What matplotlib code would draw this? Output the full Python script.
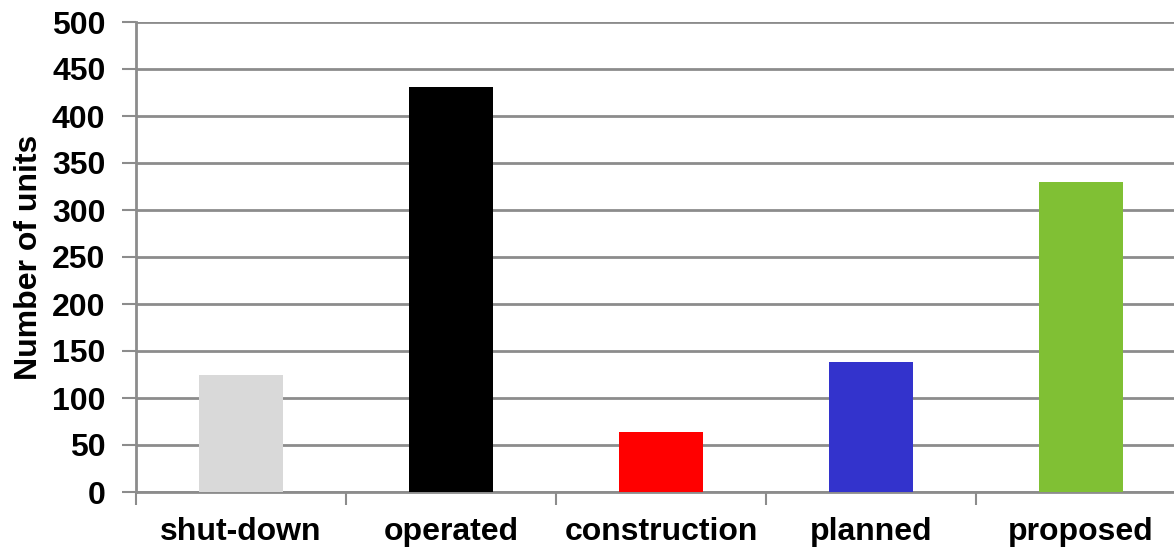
import matplotlib.pyplot as plt
import numpy as np

# data
categories = ['shut-down', 'operated', 'construction', 'planned', 'proposed']
units = [124, 431, 64, 138, 330]
colors = ['#d9d9d9', '#000000', '#ff0000', '#3333cc', '#80c034']

plt.rcParams['font.family'] = ['Liberation Sans', 'DejaVu Sans']
plt.rcParams['font.weight'] = 'bold'

fig = plt.figure(figsize=(11.74, 5.5), dpi=100)
# the original is cropped on the right, so the axes run past the figure edge
ax = fig.add_axes([136 / 1174, 58 / 550, 1050 / 1174, 470 / 550])

x = np.arange(len(categories))
ax.bar(x, units, width=0.4, color=colors, zorder=3)

ax.set_xlim(-0.5, len(categories) - 0.5)
ax.set_ylim(0, 500)
ax.set_yticks(np.arange(0, 501, 50))
ax.yaxis.grid(True, color='#8c8c8c', linewidth=2, zorder=0)

ax.set_xticks(x)
ax.set_xticklabels(categories, fontsize=23, fontweight='bold')
ax.set_xticks(np.arange(-0.5, len(categories), 1), minor=True)
ax.tick_params(axis='x', which='major', length=0, pad=18)
ax.tick_params(axis='x', which='minor', length=9, width=1.5, color='#8c8c8c')
ax.tick_params(axis='y', length=10, width=1.5, color='#8c8c8c', labelsize=23, pad=12)
for lab in ax.get_yticklabels():
    lab.set_fontweight('bold')

ax.set_ylabel('Number of units', fontsize=23, fontweight='bold', labelpad=6)

for side in ['top', 'right']:
    ax.spines[side].set_visible(False)
for side in ['left', 'bottom']:
    ax.spines[side].set_color('#8c8c8c')
    ax.spines[side].set_linewidth(2)

fig.savefig('out.png', dpi=100)
